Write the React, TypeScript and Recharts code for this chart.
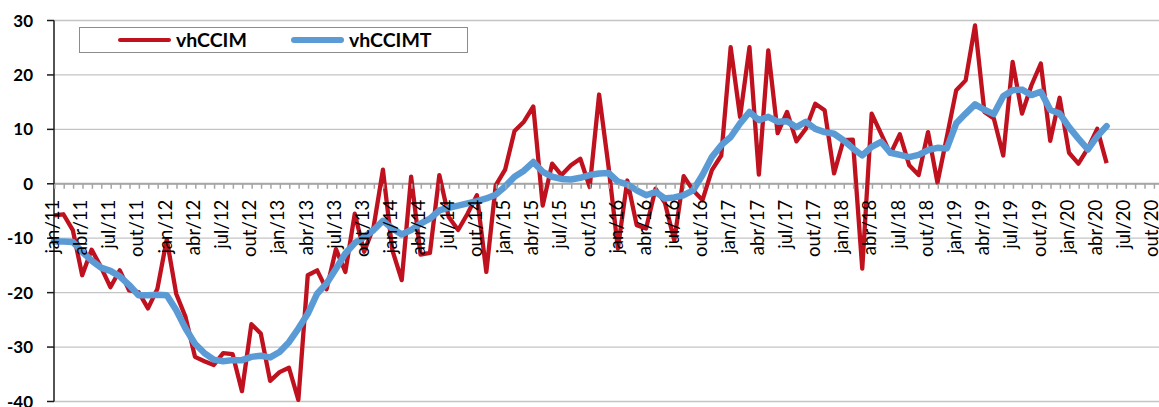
import { CartesianGrid, Legend, Line, LineChart, ReferenceLine, XAxis, YAxis } from "recharts";

// categories: jan/11 .. dez/20
const monthNames = ["jan", "fev", "mar", "abr", "mai", "jun", "jul", "ago", "set", "out", "nov", "dez"];
const years = ["11", "12", "13", "14", "15", "16", "17", "18", "19", "20"];
const months = years.flatMap((y) => monthNames.map((m) => `${m}/${y}`));

const yTicks = [-40, -30, -20, -10, 0, 10, 20, 30];

// monthly values jan/11 .. mai/20
const vhCCIM = [
  -5.8, -5.6, -8.5, -16.8, -12.1, -15.3, -19.0, -15.9, -19.6, -19.9, -22.9, -19.3,
  -10.2, -20.2, -24.5, -31.8, -32.6, -33.3, -31.1, -31.3, -38.1, -25.8, -27.5, -36.2,
  -34.6, -33.8, -39.7, -16.8, -15.9, -19.4, -12.0, -16.2, -5.5, -12.5, -8.0, 2.6,
  -12.2, -17.7, 1.3, -13.0, -12.7, 1.6, -6.1, -8.5, -5.5, -2.1, -16.2, -0.3,
  2.6, 9.7, 11.4, 14.2, -4.0, 3.7, 1.6, 3.4, 4.6, -0.6, 16.4, 3.2,
  -11.9, 0.6, -7.6, -8.2, -0.9, -3.5, -10.4, 1.4, -1.2, -3.0, 2.5, 5.2,
  25.1, 12.3, 25.1, 1.7, 24.5, 9.3, 13.2, 7.8, 10.1, 14.7, 13.5, 1.9,
  8.0, 8.1, -15.6, 12.9, 9.2, 5.5, 9.1, 3.4, 1.6, 9.5, 0.2, 8.6,
  17.2, 19.0, 29.1, 13.2, 12.0, 5.2, 22.4, 12.9, 18.1, 22.1, 7.9, 15.8,
  5.7, 3.7, 6.5, 10.1, 3.8,
];

const vhCCIMT = [
  -10.6, -10.6, -10.7, -12.5, -14.1, -15.4, -16.0, -17.0, -18.6, -20.5, -20.5, -20.4,
  -20.5, -23.2, -26.6, -29.4, -31.1, -32.3, -32.6, -32.4, -32.4, -31.8, -31.6, -31.9,
  -30.9, -29.1, -26.6, -23.9, -20.2, -18.3, -15.6, -12.8, -10.9, -9.8, -8.5, -6.8,
  -8.2, -9.3, -8.5, -7.3, -6.4, -4.9, -4.4, -4.0, -3.6, -3.2, -2.7, -2.0,
  -0.5, 1.3, 2.4, 4.0, 2.2, 1.3, 0.9, 0.8, 1.1, 1.6, 1.9, 2.0,
  0.4, -0.1, -1.2, -2.1, -1.5, -2.7, -2.5, -2.1, -1.2, 1.6, 4.9, 7.1,
  8.6, 11.1, 13.2, 11.7, 12.3, 11.4, 11.5, 10.4, 11.4, 10.1, 9.5, 9.2,
  8.0, 6.5, 5.2, 6.8, 7.7, 5.7, 5.3, 4.9, 5.3, 6.2, 6.6, 6.5,
  11.1, 12.9, 14.6, 13.6, 12.8, 16.1, 17.2, 17.3, 16.3, 16.9, 13.6, 12.9,
  10.4, 8.3, 6.3, 8.7, 10.6,
];

const data = months.map((month, i) => ({
  month,
  vhCCIM: vhCCIM[i] ?? null,
  vhCCIMT: vhCCIMT[i] ?? null,
}));

const RED = "#C0111F";
const BLUE = "#5B9BD5";
const FONT = "Lato, 'Open Sans', sans-serif";

const Y_MIN = -40;
const Y_MAX = 30;
const TOP = 20.5;
const X_AXIS_H = 2;
const BOTTOM = 3.5;
const Y_AXIS_W = 54;
const CHART_H = 407;
const PLOT_H = CHART_H - TOP - BOTTOM - X_AXIS_H;
const STEP = 9.32;
const PLOT_W = STEP * months.length;
const CHART_W = Math.ceil(Y_AXIS_W + PLOT_W);

// x axis sits on the zero line, labels every 3 months, tick marks every month
function MonthTick(props: any) {
  const { x, y, payload, index } = props;
  const zeroY = y - (PLOT_H * (0 - Y_MIN)) / (Y_MAX - Y_MIN);
  const tx = x + 0.8;
  const ly = zeroY + 16;
  return (
    <g>
      <line x1={tx} x2={tx} y1={zeroY} y2={zeroY + 5} stroke="#A6A6A6" strokeWidth={1.5} />
      {index % 3 === 0 && (
        <text
          x={x}
          y={ly}
          dy="0.26em"
          transform={`rotate(-90, ${x}, ${ly})`}
          textAnchor="end"
          fill="#000"
          fontSize={18.5}
          fontFamily={FONT}
        >
          {payload.value}
        </text>
      )}
    </g>
  );
}

const legendWidths: Record<string, number> = { vhCCIM: 4, vhCCIMT: 6 };
const legendOffsets = [38, 211];

function LegendBox(props: any) {
  const { payload } = props;
  return (
    <div
      style={{
        position: "relative",
        width: 389,
        height: 26,
        boxSizing: "border-box",
        border: "1px solid #8C8C8C",
        background: "#fff",
        fontFamily: FONT,
      }}
    >
      {(payload ?? []).map((entry: any, i: number) => (
        <div
          key={entry.value}
          style={{
            position: "absolute",
            left: legendOffsets[i],
            top: 0,
            height: 24,
            display: "flex",
            alignItems: "center",
          }}
        >
          <span
            style={{
              display: "inline-block",
              width: 53,
              height: legendWidths[entry.value],
              borderRadius: 4,
              background: entry.color,
              marginRight: 5,
            }}
          />
          <span style={{ fontSize: 19.5, fontWeight: 700, color: "#000", lineHeight: "24px" }}>
            {entry.value}
          </span>
        </div>
      ))}
    </div>
  );
}

export default function App() {
  return (
    <div style={{ position: "fixed", left: 0, top: 0, width: 1159, height: 407, overflow: "hidden", background: "#fff" }}>
      <LineChart
        width={CHART_W}
        height={CHART_H}
        data={data}
        margin={{ top: TOP, right: CHART_W - Y_AXIS_W - PLOT_W, bottom: BOTTOM, left: 0 }}
      >
        <CartesianGrid vertical={false} stroke="#C4C4C4" strokeWidth={1.3} />
        <ReferenceLine y={0} stroke="#A6A6A6" strokeWidth={2} />
        <XAxis
          dataKey="month"
          interval={0}
          height={X_AXIS_H}
          tickSize={0}
          tickMargin={0}
          axisLine={false}
          tickLine={false}
          zIndex={300}
          tick={(p: any) => <MonthTick {...p} />}
        />
        <YAxis
          width={Y_AXIS_W}
          domain={[Y_MIN, Y_MAX]}
          ticks={yTicks}
          interval={0}
          tickSize={7}
          tickMargin={14}
          axisLine={{ stroke: "#1A1A1A", strokeWidth: 1.5 }}
          tickLine={{ stroke: "#1A1A1A", strokeWidth: 1.5 }}
          tick={{ fill: "#000", fontSize: 17, fontWeight: 700, fontFamily: FONT }}
        />
        <Legend
          verticalAlign="middle"
          layout="horizontal"
          content={<LegendBox />}
          wrapperStyle={{ left: 79, top: 27, width: 389, height: 26 }}
        />
        <Line
          type="linear"
          dataKey="vhCCIM"
          name="vhCCIM"
          stroke={RED}
          strokeWidth={4.3}
          strokeLinejoin="round"
          dot={false}
          activeDot={false}
          isAnimationActive={false}
        />
        <Line
          type="linear"
          dataKey="vhCCIMT"
          name="vhCCIMT"
          stroke={BLUE}
          strokeWidth={6.5}
          strokeLinejoin="round"
          strokeLinecap="round"
          dot={false}
          activeDot={false}
          isAnimationActive={false}
        />
      </LineChart>
    </div>
  );
}
